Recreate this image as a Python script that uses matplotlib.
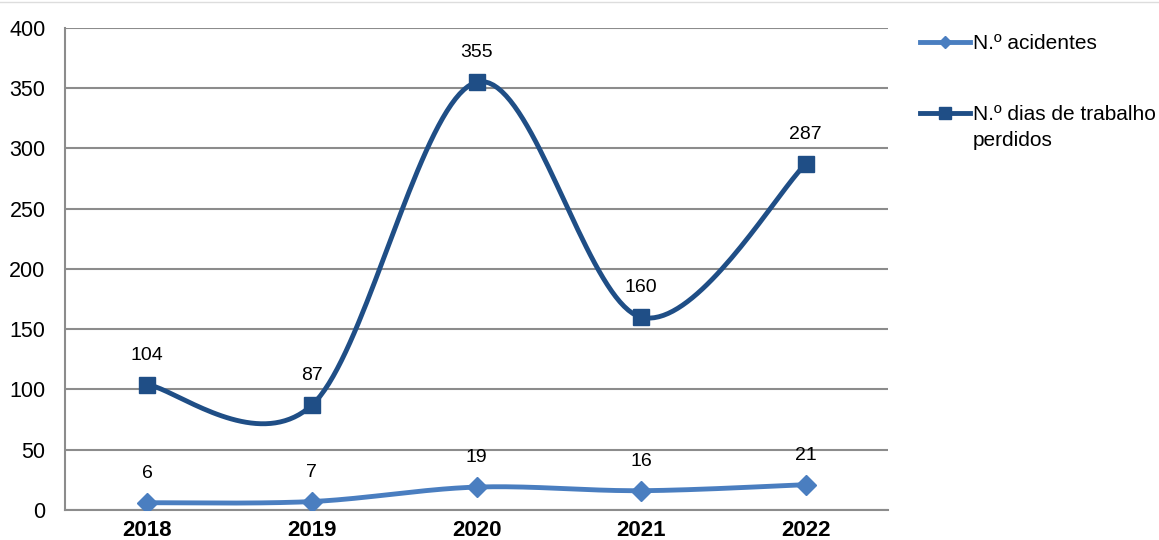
import numpy as np
import matplotlib
matplotlib.use("Agg")
import matplotlib.pyplot as plt

plt.rcParams['font.family'] = ['Liberation Sans', 'DejaVu Sans']

anos = ['2018', '2019', '2020', '2021', '2022']
acidentes = [6, 7, 19, 16, 21]
dias_perdidos = [104, 87, 355, 160, 287]
nome_acidentes = 'N.º acidentes'
nome_dias = ['N.º dias de trabalho', 'perdidos']
yticks = [0, 50, 100, 150, 200, 250, 300, 350, 400]

cor_claro = '#4A7EC0'
cor_escuro = '#1F4E86'


def suave(x, y, n=40):
    # excel-like smoothing: bezier segments with catmull-rom control points
    x = np.asarray(x, float)
    y = np.asarray(y, float)
    px = np.concatenate([[x[0]], x, [x[-1]]])
    py = np.concatenate([[y[0]], y, [y[-1]]])
    xs, ys = [], []
    t = np.linspace(0, 1, n)
    for i in range(len(x) - 1):
        p0 = np.array([px[i + 1], py[i + 1]])
        p3 = np.array([px[i + 2], py[i + 2]])
        c1 = p0 + (np.array([px[i + 2], py[i + 2]]) - np.array([px[i], py[i]])) / 6
        c2 = p3 - (np.array([px[i + 3], py[i + 3]]) - np.array([px[i + 1], py[i + 1]])) / 6
        b = ((1 - t) ** 3)[:, None] * p0 + (3 * (1 - t) ** 2 * t)[:, None] * c1 \
            + (3 * (1 - t) * t ** 2)[:, None] * c2 + (t ** 3)[:, None] * p3
        xs.extend(b[:, 0])
        ys.extend(b[:, 1])
    return np.array(xs), np.array(ys)


fig = plt.figure(figsize=(11.59, 5.4), dpi=100)
ax = fig.add_axes([0.0561, 0.0556, 0.7101, 0.8926])

x = np.arange(len(anos))

sx, sy = suave(x, acidentes)
ax.plot(sx, sy, color=cor_claro, lw=3.5, zorder=3, solid_capstyle='round')
ax.plot(x, acidentes, ls='none', marker='D', ms=10, color=cor_claro, zorder=4)
h1, = ax.plot([], [], color=cor_claro, lw=3.5, marker='D', ms=6)

sx, sy = suave(x, dias_perdidos)
ax.plot(sx, sy, color=cor_escuro, lw=3.5, zorder=3, solid_capstyle='round')
ax.plot(x, dias_perdidos, ls='none', marker='s', ms=12, color=cor_escuro, zorder=4)
h2, = ax.plot([], [], color=cor_escuro, lw=3.5, marker='s', ms=9)

for i in range(len(anos)):
    ax.annotate(str(acidentes[i]), (x[i], acidentes[i]), xytext=(0, 15),
                textcoords='offset points', ha='center', va='bottom', fontsize=14)
    ax.annotate(str(dias_perdidos[i]), (x[i], dias_perdidos[i]), xytext=(0, 15),
                textcoords='offset points', ha='center', va='bottom', fontsize=14)

ax.set_xlim(-0.5, 4.5)
ax.set_ylim(0, 400)
ax.set_yticks(yticks)
ax.set_xticks(x)
ax.set_xticklabels(anos, fontweight='bold', fontsize=16)
ax.tick_params(axis='y', labelsize=15.5, length=0, pad=14)
ax.tick_params(axis='x', length=0, pad=7)
ax.grid(axis='y', color='#8C8C8C', lw=1.5)
ax.set_axisbelow(True)
for s in ['top', 'right']:
    ax.spines[s].set_visible(False)
for s in ['left', 'bottom']:
    ax.spines[s].set_color('#8C8C8C')
    ax.spines[s].set_linewidth(1.5)

leg = ax.legend([h1, h2], [nome_acidentes, nome_dias[0]], loc='upper left',
                bbox_to_anchor=(0.778, 0.971), bbox_transform=fig.transFigure,
                frameon=False, fontsize=15, handlelength=2.4, handletextpad=0.1,
                labelspacing=2.5)

# second line of the long legend label, placed under the first line
fig.canvas.draw()
bb = leg.get_texts()[1].get_window_extent().transformed(fig.transFigure.inverted())
fig.text(bb.x0, bb.y0 - 0.012, nome_dias[1], fontsize=15, ha='left', va='top')

fig.add_artist(plt.Line2D([0, 1], [0.997, 0.997], color='#DDDDDD', lw=1))

fig.savefig('out.png', dpi=100)
